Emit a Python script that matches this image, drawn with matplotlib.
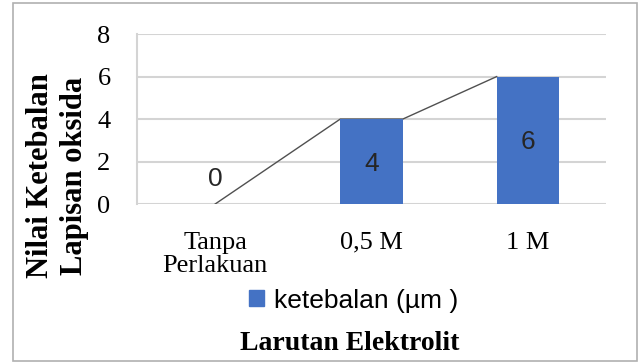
import matplotlib.pyplot as plt
from matplotlib.patches import Rectangle

kategori = ["Tanpa\nPerlakuan", "0,5 M", "1 M"]
ketebalan = [0, 4, 6]
yticks = [0, 2, 4, 6, 8]

serif = "Liberation Serif"
sans = "Liberation Sans"
biru = "#4472C4"
grid_c = "#d4d4d4"


def main():
    fig = plt.figure(figsize=(6.38, 3.63), dpi=100)
    ax = fig.add_axes([0.2147, 0.438, 0.7353, 0.468])

    x = list(range(len(kategori)))
    lebar = 0.4
    ax.bar(x, ketebalan, width=lebar, color=biru, zorder=3)

    # garis penghubung antar sudut atas batang
    gx = [x[0], x[1] - lebar / 2, x[1] + lebar / 2, x[2] - lebar / 2]
    gy = [ketebalan[0], ketebalan[1], ketebalan[1], ketebalan[2]]
    ax.plot(gx, gy, color="#505050", lw=1.0, zorder=2)

    for xi, v in zip(x, ketebalan):
        ypos = v / 2 - 0.1 if v > 0 else 1.2
        ax.text(xi, ypos, str(v), ha="center", va="center",
                fontsize=19, family=sans, color="#262626", zorder=4)

    ax.set_xlim(-0.5, 2.5)
    ax.set_ylim(0, 8)
    ax.set_yticks(yticks)
    ax.set_xticks(x)
    ax.set_xticklabels(kategori, fontsize=19, family=serif, linespacing=1.1)
    ax.set_yticklabels([str(t) for t in yticks], fontsize=19, family=serif)
    ax.tick_params(length=0)
    ax.tick_params(axis="x", pad=20)
    ax.tick_params(axis="y", pad=19)
    ax.yaxis.grid(True, color=grid_c, lw=1.5, zorder=0)
    for s in ["top", "right", "bottom"]:
        ax.spines[s].set_visible(False)
    ax.spines["left"].set_color(grid_c)
    ax.spines["left"].set_linewidth(1.5)

    fig.text(0.063, 0.515, "Nilai Ketebalan", rotation=90, ha="center",
             va="center", fontsize=22, family=serif, fontweight="bold")
    fig.text(0.116, 0.515, "Lapisan oksida", rotation=90, ha="center",
             va="center", fontsize=22, family=serif, fontweight="bold")
    fig.text(0.548, 0.055, "Larutan Elektrolit", ha="center", va="center",
             fontsize=20, family=serif, fontweight="bold")

    handle = Rectangle((0, 0), 1, 1, color=biru)
    fig.legend([handle], ["ketebalan (µm )"], loc="center",
               bbox_to_anchor=(0.555, 0.172), frameon=False,
               prop={"family": sans, "size": 19},
               handlelength=0.55, handleheight=0.55, handletextpad=0.4)

    fig.patches.append(Rectangle((0.02, 0.005), 0.978, 0.987,
                                 transform=fig.transFigure, fill=False,
                                 edgecolor="#b0b0b0", lw=1.2))

    fig.savefig("out.png", dpi=100)


if __name__ == "__main__":
    main()
